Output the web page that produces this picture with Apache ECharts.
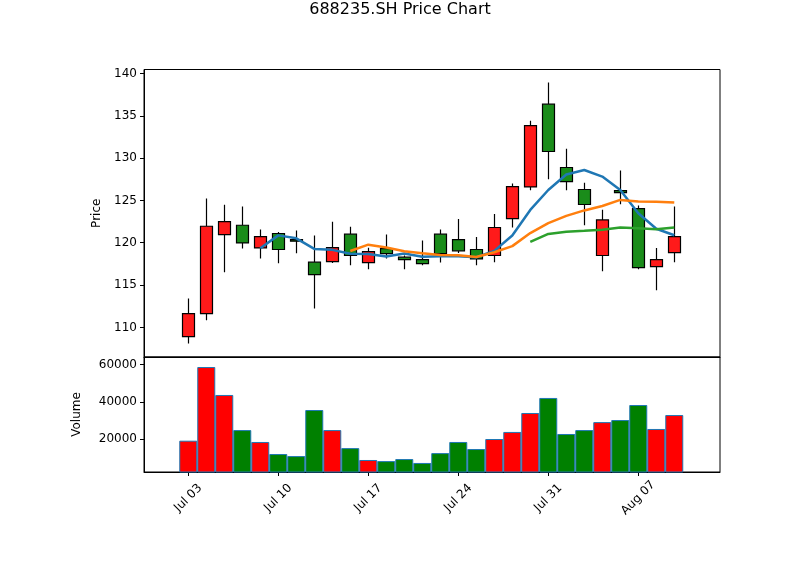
<!DOCTYPE html>
<html style="height: 100%">
<head>
<meta charset="utf-8">
</head>
<body style="height: 100%; margin: 0; background: #fff">
<div id="container" style="width: 800px; height: 575px"></div>
<script src="https://cdn.jsdelivr.net/npm/echarts@6/dist/echarts.min.js"></script>
<script>
// trading days (Jul 03 .. Aug 09)
var dates = ['Jul 03','Jul 04','Jul 05','Jul 08','Jul 09','Jul 10','Jul 11','Jul 12',
  'Jul 15','Jul 16','Jul 17','Jul 18','Jul 19','Jul 22','Jul 23','Jul 24','Jul 25','Jul 26',
  'Jul 29','Jul 30','Jul 31','Aug 01','Aug 02','Aug 05','Aug 06','Aug 07','Aug 08','Aug 09'];
var openP  = [108.91,111.63,120.97,122.07,119.39,121.09,120.38,117.70,117.78,121.01,117.66,119.31,118.29,118.01,
  121.01,120.38,119.20,118.49,122.86,126.60,136.37,128.89,126.29,118.49,126.17,124.04,117.19,118.84];
var closeP = [111.63,121.95,122.50,119.98,120.73,119.20,120.18,116.24,119.43,118.49,118.96,118.72,118.01,117.54,
  118.72,119.04,118.09,121.80,126.64,133.85,130.78,127.23,124.52,122.70,125.93,117.07,118.01,120.73];
var lowP   = [108.10,110.84,116.51,119.31,118.13,117.58,118.76,112.22,117.62,117.34,116.87,118.13,116.87,117.34,
  117.66,118.80,117.34,117.70,121.80,126.21,127.51,126.21,122.07,116.63,124.55,116.87,114.39,117.70];
var highP  = [113.40,125.22,124.48,124.28,121.56,121.28,121.44,120.85,122.47,121.88,119.40,120.97,118.50,120.26,
  121.56,122.82,120.69,123.41,127.00,134.40,138.94,131.10,127.08,123.89,128.53,124.40,119.39,124.28];
var volume = [19100,58750,43700,24800,18400,11900,10800,35600,24800,15100,8700,8100,9200,7100,
  12400,18400,14600,20000,23800,34000,42100,22700,24800,29100,30200,38300,25400,32900];
var ma5  = [null,null,null,null,119.36,120.87,120.52,119.27,119.16,118.71,118.66,118.37,118.72,118.34,
  118.39,118.41,118.28,119.04,120.86,123.88,126.23,128.06,128.60,127.82,126.23,123.49,121.65,120.89];
var ma10 = [null,null,null,null,null,null,null,null,null,119.03,119.77,119.44,118.99,118.75,
  118.55,118.53,118.32,118.88,119.60,121.14,122.32,123.17,123.82,124.34,125.06,124.86,124.85,124.75];
var ma20 = [null,null,null,null,null,null,null,null,null,null,null,null,null,null,
  null,null,null,null,null,120.09,121.04,121.31,121.41,121.54,121.80,121.70,121.59,121.81];
var priceTicks = [110,115,120,125,130,135,140];
var volTicks = [20000,40000,60000];
var dateTicks = [0,5,10,15,20,25];

var font = 'DejaVu Sans';
var dom = document.getElementById('container');
var myChart = echarts.init(dom);

var candles = [], vols = [];
for (var i = 0; i < dates.length; i++) {
    candles.push([i, openP[i], closeP[i], lowP[i], highP[i]]);
    var up = closeP[i] >= openP[i];
    vols.push({value: [i, volume[i]], itemStyle: {color: up ? '#ff0000' : '#008000'}});
}
function line(arr) {
    var out = [];
    for (var i = 0; i < arr.length; i++) if (arr[i] != null) out.push([i, arr[i]]);
    return out;
}

var xBase = {
    type: 'value', min: -2.46, max: 29.54,
    splitLine: {show: false},
    axisLine: {show: true, onZero: false, lineStyle: {color: '#000', width: 1}}
};

var option = {
    animation: false,
    backgroundColor: '#fff',
    title: {
        text: '688235.SH Price Chart', left: 'center', top: -3,
        textStyle: {fontFamily: font, fontSize: 16, fontWeight: 'normal', color: '#000'}
    },
    grid: [
        {left: 144, right: 80, top: 69.5, height: 287.5, show: true, borderColor: '#000', borderWidth: 1, backgroundColor: 'transparent'},
        {left: 144, right: 80, top: 357, height: 115, show: true, borderColor: '#000', borderWidth: 1, backgroundColor: 'transparent'}
    ],
    xAxis: [
        Object.assign({}, xBase, {gridIndex: 0, axisTick: {show: false}, axisLabel: {show: false}}),
        Object.assign({}, xBase, {
            gridIndex: 1,
            axisTick: {show: true, length: 4, lineStyle: {color: '#000'}, customValues: dateTicks},
            axisLabel: {
                customValues: dateTicks, rotate: 45, align: 'center', verticalAlign: 'middle', margin: 26,
                fontFamily: font, fontSize: 12, color: '#000',
                formatter: function (v) { return dates[Math.round(v)]; }
            }
        })
    ],
    yAxis: [
        {
            gridIndex: 0, type: 'value', min: 106.5, max: 140.47,
            name: 'Price', nameLocation: 'middle', nameGap: 41,
            nameTextStyle: {fontFamily: font, fontSize: 12, color: '#000'},
            splitLine: {show: false},
            axisLine: {show: true, onZero: false, lineStyle: {color: '#000'}},
            axisTick: {show: true, length: 4, lineStyle: {color: '#000'}, customValues: priceTicks},
            axisLabel: {customValues: priceTicks, margin: 7, fontFamily: font, fontSize: 12, color: '#000'}
        },
        {
            gridIndex: 1, type: 'value', min: 2234, max: 64150,
            name: 'Volume', nameLocation: 'middle', nameGap: 61,
            nameTextStyle: {fontFamily: font, fontSize: 12, color: '#000'},
            splitLine: {show: false},
            axisLine: {show: true, onZero: false, lineStyle: {color: '#000'}},
            axisTick: {show: true, length: 4, lineStyle: {color: '#000'}, customValues: volTicks},
            axisLabel: {customValues: volTicks, margin: 7, fontFamily: font, fontSize: 12, color: '#000',
                formatter: function (v) { return String(Math.round(v)); }}
        }
    ],
    series: [
        {
            type: 'candlestick', xAxisIndex: 0, yAxisIndex: 0,
            encode: {x: 0, y: [1, 2, 3, 4]},
            barWidth: 12,
            itemStyle: {color: '#ff1a1a', color0: '#1a8c1a', borderColor: '#000', borderColor0: '#000', borderWidth: 1.2},
            data: candles
        },
        {type: 'line', name: 'MA5', xAxisIndex: 0, yAxisIndex: 0, data: line(ma5), showSymbol: false,
            lineStyle: {color: '#1f77b4', width: 2.5}, z: 3},
        {type: 'line', name: 'MA10', xAxisIndex: 0, yAxisIndex: 0, data: line(ma10), showSymbol: false,
            lineStyle: {color: '#ff7f0e', width: 2.5}, z: 3},
        {type: 'line', name: 'MA20', xAxisIndex: 0, yAxisIndex: 0, data: line(ma20), showSymbol: false,
            lineStyle: {color: '#2ca02c', width: 2.5}, z: 3},
        {
            type: 'bar', xAxisIndex: 1, yAxisIndex: 1, barWidth: 18,
            itemStyle: {borderColor: '#1f77b4', borderWidth: 1},
            data: vols
        }
    ]
};

myChart.setOption(option);
</script>
</body>
</html>
